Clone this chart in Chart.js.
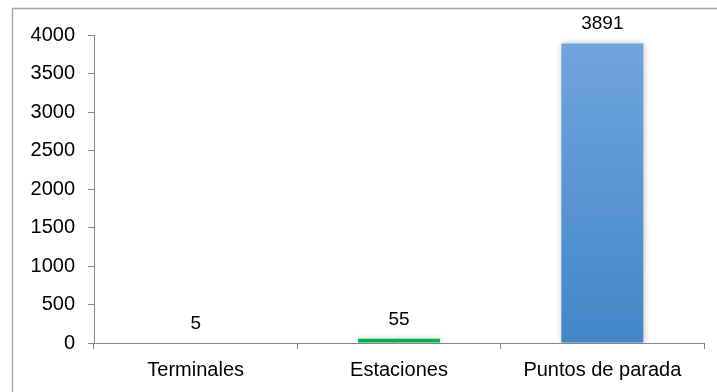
<!DOCTYPE html>
<html>
<head>
<meta charset="utf-8">
<script src="https://cdn.jsdelivr.net/npm/chart.js@4"></script>
<style>
  html, body { margin: 0; padding: 0; background: #fff; }
  #wrap { width: 717px; height: 392px; }
</style>
</head>
<body>
<div id="wrap"><canvas id="chart" width="717" height="392"></canvas></div>
<script>
// Infrastructure counts
const categories = ['Terminales', 'Estaciones', 'Puntos de parada'];
const counts = [5, 55, 3891];

const axisColor = '#868686';
const fontFamily = '"Liberation Sans", Arial, sans-serif';

// Blue vertical gradient for the tallest bar, flat colours for the others
function barColor(ctx) {
  const chart = ctx.chart;
  const area = chart.chartArea;
  if (ctx.dataIndex === 0) return '#F3F3F3';
  if (ctx.dataIndex === 1) return '#00B050';
  if (!area) return '#5596D2';
  const g = chart.ctx.createLinearGradient(0, area.top, 0, area.bottom);
  g.addColorStop(0, '#71A6DC');
  g.addColorStop(1, '#4386C8');
  return g;
}

// Outer frame (top and left edges of the chart box)
const framePlugin = {
  id: 'frame',
  beforeDraw(chart) {
    const c = chart.ctx;
    c.save();
    c.fillStyle = '#fff';
    c.fillRect(0, 0, chart.width, chart.height);
    c.strokeStyle = '#A6A6A6';
    c.lineWidth = 1.5;
    c.beginPath();
    c.moveTo(12.5, chart.height);
    c.lineTo(12.5, 8.5);
    c.lineTo(chart.width, 8.5);
    c.stroke();
    c.restore();
  }
};

// Soft shadow under the bars
const shadowPlugin = {
  id: 'barShadow',
  beforeDatasetDraw(chart) {
    const c = chart.ctx;
    c.save();
    c.shadowColor = 'rgba(0,0,0,0.28)';
    c.shadowBlur = 7;
    c.shadowOffsetX = 1;
    c.shadowOffsetY = 1;
  },
  afterDatasetDraw(chart) {
    chart.ctx.restore();
  }
};

// Value labels above each bar
const valueLabels = {
  id: 'valueLabels',
  afterDatasetsDraw(chart) {
    const c = chart.ctx;
    const meta = chart.getDatasetMeta(0);
    c.save();
    c.fillStyle = '#000';
    c.font = '19px ' + fontFamily;
    c.textAlign = 'center';
    c.textBaseline = 'alphabetic';
    meta.data.forEach((bar, i) => {
      c.fillText(String(chart.data.datasets[0].data[i]), bar.x, bar.y - 14);
    });
    c.restore();
  }
};

new Chart(document.getElementById('chart'), {
  type: 'bar',
  data: {
    labels: categories,
    datasets: [{
      data: counts,
      backgroundColor: barColor,
      borderWidth: 0,
      categoryPercentage: 1,
      barPercentage: 0.403
    }]
  },
  plugins: [framePlugin, shadowPlugin, valueLabels],
  options: {
    responsive: false,
    animation: false,
    events: [],
    layout: { padding: { top: 35, right: 13, left: 0, bottom: 0 } },
    plugins: { legend: { display: false }, tooltip: { enabled: false } },
    scales: {
      x: {
        grid: { drawOnChartArea: false, drawTicks: true, tickLength: 6, color: axisColor },
        border: { color: axisColor, width: 1 },
        ticks: { color: '#000', font: { family: fontFamily, size: 20 }, padding: 9, maxRotation: 0 },
        afterFit(scale) { scale.height = 49; }
      },
      y: {
        min: 0,
        max: 4000,
        grid: { drawOnChartArea: false, drawTicks: true, tickLength: 6, color: axisColor },
        border: { color: axisColor, width: 1 },
        ticks: {
          stepSize: 500,
          color: '#000',
          font: { family: fontFamily, size: 20 },
          padding: 13,
          callback: (v) => String(v)
        },
        afterFit(scale) { scale.width = 94; }
      }
    }
  }
});
</script>
</body>
</html>
